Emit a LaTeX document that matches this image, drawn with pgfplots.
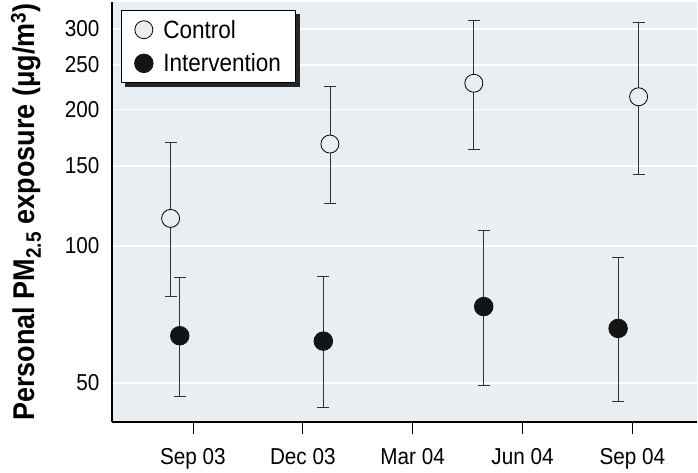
\documentclass[border=0pt]{standalone}
\usepackage{fontspec}
\setmainfont{Liberation Sans}[FakeStretch=0.9]
\usepackage{pgfplots}
\pgfplotsset{compat=1.18}
\usetikzlibrary{shadows}
\definecolor{bg}{RGB}{232,238,242}
\definecolor{barc}{RGB}{45,50,55}
\definecolor{dot}{RGB}{18,20,22}
\pgfplotstableread{
x y ep em
-0.61 115 53.7 37.6
3.74 167.6 57.1 43.7
7.67 228 86 64.6
12.17 212.9 97.1 69.4
}\control
\pgfplotstableread{
x y ep em
-0.36 63.5 21.7 16.9
3.56 61.8 23.8 17.6
7.94 73.6 34.4 24.2
11.61 65.9 28.4 20.4
}\interv
\begin{document}
\begin{tikzpicture}
\begin{axis}[name=ax,
  scale only axis, width=585pt, height=420pt,
  ymode=log, ymin=41, ymax=344, xmin=-2.21, xmax=13.77,
  axis background/.style={fill=bg},
  axis x line*=bottom, axis y line*=left,
  axis line style={line width=1.6pt, -},
  xtick={0,3,6,9,12}, xticklabels={Sep 03,Dec 03,Mar 04,Jun 04,Sep 04},
  ytick={50,100,150,200,250,300}, yticklabels={50,100,150,200,250,300},
  yminorticks=false,
  ymajorgrids, grid style={white, line width=1.2pt},
  ytick style={draw=none},
  xtick style={black, line width=0.8pt},
  xtick align=outside, major tick length=12pt,
  /pgf/number format/assume math mode=true,
  tick label style={font=\fontsize{23}{26}\selectfont},
  xticklabel style={yshift=-11pt},
  yticklabel style={xshift=-9pt},
  ylabel={Personal PM\textsubscript{2.5} exposure (μg/m\textsuperscript{3})},
  ylabel style={font=\bfseries\fontsize{30}{34}\selectfont, yshift=17pt},
  legend style={at={(0.0154,0.981)}, anchor=north west, draw=black, line width=0.8pt,
    fill=white, font=\fontsize{25}{29}\selectfont,
    inner xsep=5pt, inner ysep=7.5pt, row sep=10pt,
    drop shadow={shadow xshift=4pt, shadow yshift=-4pt, fill=black!85, opacity=1}},
  legend image code/.code={\path (-17pt,0pt) (17pt,0pt); \draw[mark repeat=2,mark phase=2,#1] plot coordinates {(-17pt,0pt) (0pt,0pt) (17pt,0pt)};},
  legend cell align=left,
]
\addplot+[only marks, mark=*, mark size=9pt,
  mark options={draw=black, fill=bg, line width=0.8pt},
  error bars/.cd, y dir=both, y explicit,
  error bar style={barc, line width=0.8pt},
  error mark options={barc, line width=0.8pt, mark size=6pt, rotate=90}]
  table[x=x, y=y, y error plus=ep, y error minus=em]{\control};
\addlegendentry{Control}
\addplot+[only marks, mark=*, mark size=9.3pt,
  mark options={draw=dot, fill=dot, line width=0.8pt},
  error bars/.cd, y dir=both, y explicit,
  error bar style={barc, line width=0.8pt},
  error mark options={barc, line width=0.8pt, mark size=6pt, rotate=90}]
  table[x=x, y=y, y error plus=ep, y error minus=em]{\interv};
\addlegendentry{Intervention\hspace*{8pt}}
\end{axis}
\path ([xshift=-112pt]ax.south west);
\end{tikzpicture}
\end{document}
